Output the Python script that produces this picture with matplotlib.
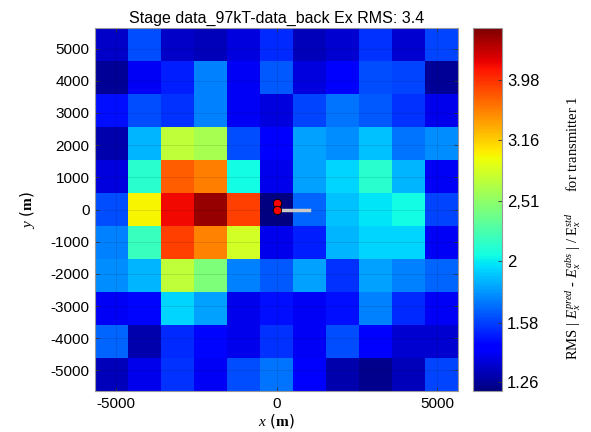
import numpy as np
import matplotlib
matplotlib.use("Agg")
import matplotlib.pyplot as plt
from matplotlib.colors import LogNorm

plt.rcParams['mathtext.fontset'] = 'custom'
plt.rcParams['mathtext.rm'] = 'Liberation Serif'
plt.rcParams['mathtext.it'] = 'Liberation Serif:italic'
plt.rcParams['mathtext.bf'] = 'Liberation Serif:bold'

# grid of receivers (cell spacing in m)
spacing = 1025.5
n = 11
x_centers = (np.arange(n) - 5) * spacing
y_centers = (np.arange(n) - 5) * spacing

# RMS values, rows from top (y=+5000) to bottom (y=-5000)
rms_rows = [
    [1.33, 1.61, 1.33, 1.31, 1.37, 1.53, 1.31, 1.35, 1.55, 1.35, 1.59],
    [1.26, 1.41, 1.51, 1.73, 1.41, 1.64, 1.37, 1.44, 1.61, 1.59, 1.26],
    [1.48, 1.61, 1.55, 1.73, 1.41, 1.37, 1.59, 1.70, 1.64, 1.55, 1.39],
    [1.29, 1.85, 2.72, 2.61, 1.61, 1.44, 1.80, 1.75, 1.88, 1.70, 1.75],
    [1.37, 2.12, 3.72, 3.55, 2.04, 1.39, 1.80, 1.93, 2.12, 1.85, 1.41],
    [1.61, 2.99, 4.22, 4.71, 3.89, 1.22, 1.66, 1.88, 1.98, 2.04, 1.59],
    [1.73, 2.18, 3.89, 3.53, 2.80, 1.39, 1.51, 1.85, 1.93, 1.93, 1.41],
    [1.75, 1.85, 2.72, 2.44, 1.73, 1.64, 1.80, 1.55, 1.80, 1.73, 1.66],
    [1.41, 1.46, 1.93, 1.80, 1.39, 1.48, 1.41, 1.48, 1.73, 1.53, 1.41],
    [1.66, 1.29, 1.53, 1.46, 1.39, 1.55, 1.41, 1.61, 1.44, 1.35, 1.35],
    [1.31, 1.39, 1.55, 1.41, 1.61, 1.70, 1.44, 1.29, 1.24, 1.31, 1.59],
]

cbar_min, cbar_max = 1.22, 4.84
cbar_ticks = [1.26, 1.58, 2.0, 2.51, 3.16, 3.98]
cbar_ticklabels = ['1.26', '1.58', '2', '2,51', '3.16', '3.98']
axis_ticks = [-5000, -4000, -3000, -2000, -1000, 0, 1000, 2000, 3000, 4000, 5000]
x_ticks = [-5000, 0, 5000]

# transmitter markers and line
tx_x = [0, 0]
tx_y = [200, 0]
line_x = [0, 1000]
line_y = [0, 0]

Z = np.flipud(np.array(rms_rows))
x_edges = np.concatenate([x_centers - spacing / 2, [x_centers[-1] + spacing / 2]])
y_edges = np.concatenate([y_centers - spacing / 2, [y_centers[-1] + spacing / 2]])

fig = plt.figure(figsize=(5.91, 4.32), dpi=100)
ax = fig.add_axes([95 / 591, 41 / 432, 363 / 591, 363 / 432])
cax = fig.add_axes([472.7 / 591, 41.3 / 432, 29.6 / 591, 362.4 / 432])

mesh = ax.pcolormesh(x_edges, y_edges, Z, cmap='jet',
                     norm=LogNorm(vmin=cbar_min, vmax=cbar_max), shading='flat')
ax.plot(line_x, line_y, color='#c8c8c8', lw=2.5, zorder=3)
ax.plot(tx_x, tx_y, 'o', color='red', mec='black', mew=0.6, ms=6, zorder=4)

ax.set_xlim(x_edges[0], x_edges[-1])
ax.set_ylim(y_edges[0], y_edges[-1])
ax.set_xticks(x_ticks)
ax.set_yticks(axis_ticks)
ax.set_xticklabels([str(v) for v in x_ticks], fontfamily='Liberation Sans', fontsize=11)
ax.set_yticklabels([str(v) for v in axis_ticks], fontfamily='Liberation Sans', fontsize=11)
ax.tick_params(direction='in', length=3, width=0.6, top=True, right=True, color='#333333', pad=4)
ax.grid(True, color='black', alpha=0.12, lw=0.6)
for s in ax.spines.values():
    s.set_color('#999999')
    s.set_linewidth(0.8)

ax.set_title('Stage data_97kT-data_back Ex RMS: 3.4', fontfamily='Liberation Sans',
             fontsize=11.5, pad=4)
ax.set_xlabel(r'$\mathit{x}$ ($\mathbf{m}$)', fontsize=11, labelpad=1)
ax.set_ylabel(r'$\mathit{y}$ ($\mathbf{m}$)', fontsize=11, labelpad=10)

cb = fig.colorbar(mesh, cax=cax)
cb.minorticks_off()
cb.set_ticks(cbar_ticks)
cb.set_ticklabels(cbar_ticklabels)
for t in cb.ax.get_yticklabels():
    t.set_fontfamily('Liberation Sans')
    t.set_fontsize(12)
cb.ax.tick_params(direction='in', length=3, width=0.6, color='#333333')
cb.outline.set_edgecolor('#999999')
cb.outline.set_linewidth(0.8)
cb.set_label(r'RMS | $E_x^{pred}$ - $E_x^{abs}$ | / E$_x^{std}$      for transmitter 1',
             fontfamily='Liberation Serif', fontsize=10.5)
cb.ax.yaxis.set_label_coords(3.05, 0.45)

fig.savefig('out.png', dpi=100)
